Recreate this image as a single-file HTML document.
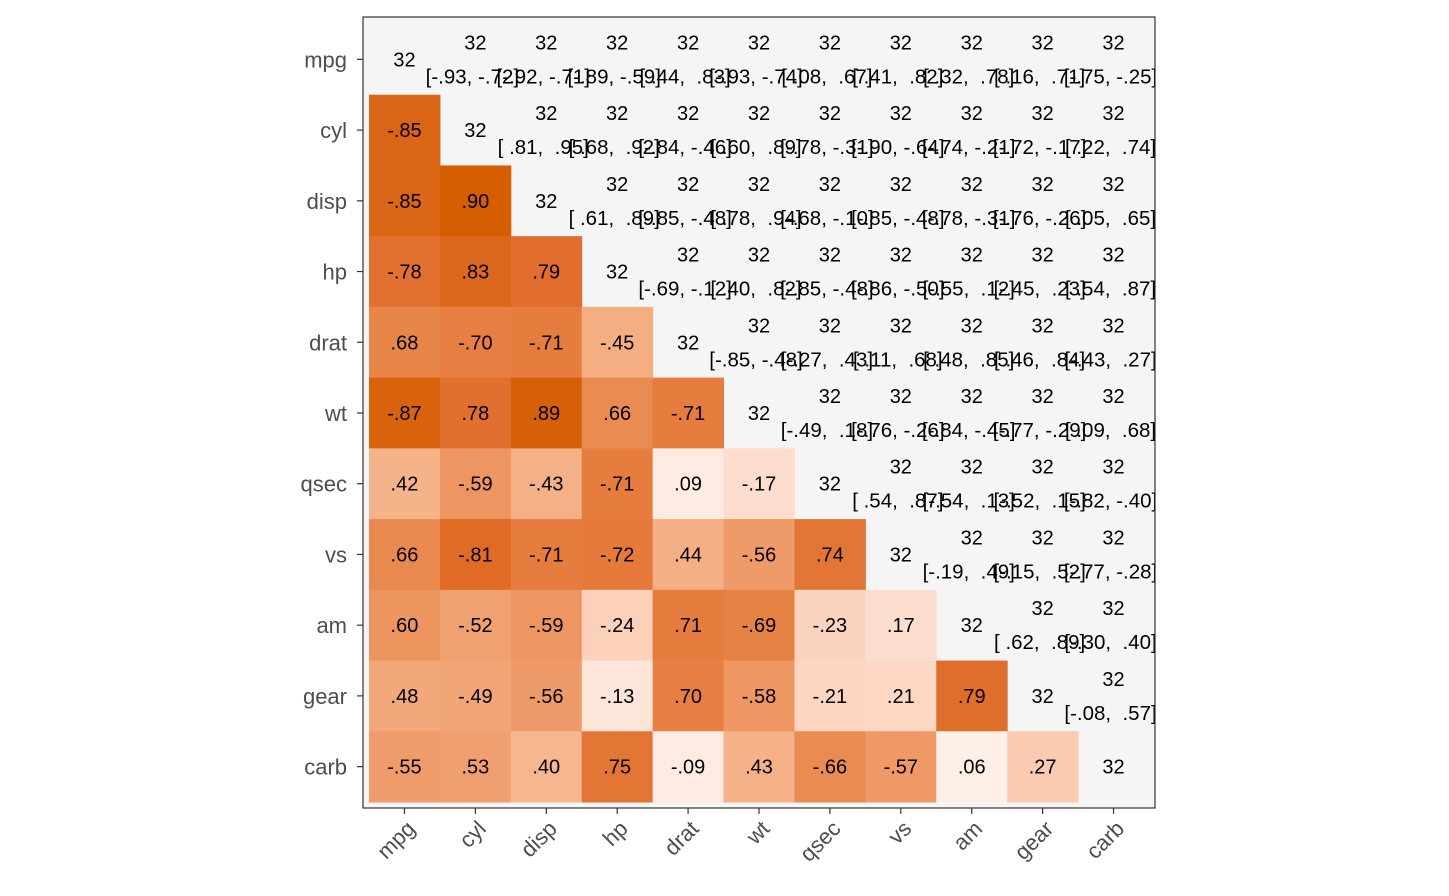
<!DOCTYPE html>
<html><head><meta charset="utf-8"><style>
body{margin:0;background:#fff;}
svg{display:block;font-family:"Liberation Sans",sans-serif;}
</style></head><body>
<svg id="chart" width="1449" height="896"><defs><clipPath id="pclip"><rect x="363" y="17" width="792" height="791"/></clipPath></defs></svg>
<script>
const vars=["mpg","cyl","disp","hp","drat","wt","qsec","vs","am","gear","carb"];
const nObs=32;
// lower-triangle correlations, row i has values for columns 0..i-1
const rMpg=[];
const rCyl=[-0.852];
const rDisp=[-0.848,0.902];
const rHp=[-0.776,0.832,0.791];
const rDrat=[0.681,-0.700,-0.710,-0.449];
const rWt=[-0.868,0.782,0.888,0.659,-0.712];
const rQsec=[0.419,-0.591,-0.434,-0.708,0.091,-0.175];
const rVs=[0.664,-0.811,-0.710,-0.723,0.440,-0.555,0.745];
const rAm=[0.600,-0.523,-0.591,-0.243,0.713,-0.692,-0.230,0.168];
const rGear=[0.480,-0.493,-0.556,-0.126,0.700,-0.583,-0.213,0.206,0.794];
const rCarb=[-0.551,0.527,0.395,0.750,-0.091,0.428,-0.656,-0.570,0.058,0.274];
const rows=[rMpg,rCyl,rDisp,rHp,rDrat,rWt,rQsec,rVs,rAm,rGear,rCarb];

const svg=document.getElementById('chart');
const NS="http://www.w3.org/2000/svg";
const L=369,T=24,W=780,H=778,n=vars.length,cw=W/n,ch=H/n;
const xs=j=>L+j*cw, ys=i=>T+i*ch;
function mk(tag,attrs,txt,parent){const e=document.createElementNS(NS,tag);for(const k in attrs)e.setAttribute(k,attrs[k]);if(txt!==undefined)e.textContent=txt;(parent||svg).appendChild(e);return e;}
const stops=[[0,[255,245,240]],[0.1,[254,234,224]],[0.2,[253,216,198]],[0.4,[246,182,142]],[0.55,[239,156,106]],[0.65,[235,141,84]],[0.72,[229,122,59]],[0.8,[224,109,42]],[0.9,[213,94,0]],[1,[210,90,0]]];
function col(r){const a=Math.abs(r);for(let k=1;k<stops.length;k++){if(a<=stops[k][0]){const[t0,c0]=stops[k-1],[t1,c1]=stops[k];const f=(a-t0)/(t1-t0);return "rgb("+c0.map((c,i)=>Math.round(c+(c1[i]-c)*f)).join(",")+")";}}return "rgb(210,90,0)";}
function fmt(v){let s=v.toFixed(2);if(s==="-0.00")s="0.00";s=s.replace("0.",".");return s;}
function fmtCI(v){const s=fmt(v);return s[0]==="-"?s:" "+s;}
function getR(i,j){return i>j?rows[i][j]:rows[j][i];}

let e=mk('rect',{x:363,y:17,width:792,height:791,fill:'#f5f5f5'});


const g=mk('g',{"clip-path":"url(#pclip)"});


for(let i=0;i<n;i++){
  for(let j=0;j<n;j++){
    const cx=xs(j)+cw/2, cy=ys(i)+ch/2;
    if(i>j){
      const r=getR(i,j);
      e=mk('rect',{x:xs(j),y:ys(i),width:cw+0.5,height:ch+0.5,fill:col(r)},undefined,g);
      
      
      e=mk('text',{x:cx,y:cy+7,"text-anchor":"middle","font-size":20,fill:'#000'},fmt(r),g);
      
      
    } else if(i===j){
      e=mk('text',{x:cx,y:cy+7,"text-anchor":"middle","font-size":20,fill:'#000'},String(nObs),g);
      
      
    } else {
      const r=getR(i,j);const z=Math.atanh(r),d=1.959964/Math.sqrt(nObs-3);
      const lo=Math.tanh(z-d),hi=Math.tanh(z+d);
      e=mk('text',{x:cx,y:cy-10,"text-anchor":"middle","font-size":20,fill:'#000'},String(nObs),g);
      
      
      e=mk('text',{x:cx-3,y:cy+24,"text-anchor":"middle","font-size":20.5,fill:'#000',"xml:space":"preserve",style:"white-space:pre"},"["+fmtCI(lo)+", "+fmtCI(hi)+"]",g);
      
      
    }
  }
}
e=mk('rect',{x:363,y:17,width:792,height:791,fill:'none',stroke:'#333',"stroke-width":1.2});


for(let i=0;i<n;i++){
  const cy=ys(i)+ch/2;
  e=mk('line',{x1:357,x2:363,y1:cy,y2:cy,stroke:'#333',"stroke-width":1.2});
  
  
  e=mk('text',{x:347,y:cy+8,"text-anchor":"end","font-size":22,fill:'#4d4d4d'},vars[i]);
  
  
  const cx=xs(i)+cw/2;
  e=mk('line',{x1:cx,x2:cx,y1:808,y2:814,stroke:'#333',"stroke-width":1.2});
  
  
  e=mk('text',{x:0,y:0,"text-anchor":"end","font-size":22,fill:'#4d4d4d',transform:"translate("+(cx+12)+",830) rotate(-45)"},vars[i]);
  
  
}
</script>
</body></html>
